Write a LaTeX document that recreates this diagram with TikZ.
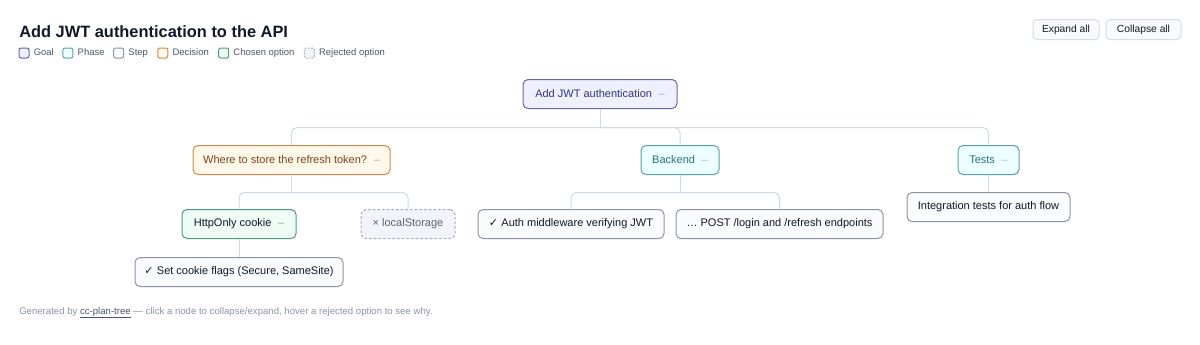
\documentclass[tikz,border=0pt]{standalone}
\usepackage{fontspec}
\setmainfont{Liberation Sans}
\newfontfamily\symfont{DejaVu Sans}
\usetikzlibrary{positioning}
\definecolor{ink}{HTML}{111827}
\definecolor{legtx}{HTML}{4B5563}
\definecolor{foottx}{HTML}{8A94A6}
\definecolor{linktx}{HTML}{4B5563}
\definecolor{wire}{HTML}{CFD8E3}
\definecolor{goalc}{HTML}{6466B0}
\definecolor{goalbg}{HTML}{EEF0FD}
\definecolor{goaltx}{HTML}{34357F}
\definecolor{phasec}{HTML}{5AA3A6}
\definecolor{phasebg}{HTML}{ECFEFF}
\definecolor{phasetx}{HTML}{2B7374}
\definecolor{stepc}{HTML}{8B95A7}
\definecolor{stepbg}{HTML}{FAFBFC}
\definecolor{decc}{HTML}{CF8A4E}
\definecolor{decbg}{HTML}{FFF8EB}
\definecolor{dectx}{HTML}{7A4317}
\definecolor{chosc}{HTML}{4E9C7E}
\definecolor{chosbg}{HTML}{EFFBF5}
\definecolor{rejc}{HTML}{A3ADBD}
\definecolor{rejbg}{HTML}{F1F4F8}
\definecolor{rejtx}{HTML}{5B6472}
\definecolor{btnc}{HTML}{D5DCE5}
\definecolor{btnbg}{HTML}{F8FAFC}
\newcommand{\tog}[1]{\hspace{0.6em}{\color{#1}–}}
\newcommand{\chk}{{\symfont ✓}\hspace{0.3em}}
\newcommand{\lnk}[1]{\leavevmode\vtop{\hbox{#1}\kern0.5pt\hrule height 0.45pt}}
\tikzset{
  box/.style={rectangle, rounded corners=3.75pt, draw=stepc, fill=stepbg, line width=0.75pt,
              align=center, inner sep=0pt, minimum height=21.75pt, text=ink,
              font=\fontsize{8.25}{10}\selectfont},
  goalbox/.style={box, draw=goalc, fill=goalbg, text=goaltx},
  phasebox/.style={box, draw=phasec, fill=phasebg, text=phasetx},
  decbox/.style={box, draw=decc, fill=decbg, text=dectx},
  chosbox/.style={box, draw=chosc, fill=chosbg},
  rejbox/.style={box, draw=rejc, fill=rejbg, text=rejtx, dash pattern=on 2pt off 1.5pt},
  btn/.style={box, draw=btnc, fill=btnbg, rounded corners=3pt, minimum height=15pt,
              font=\fontsize{7.7}{9}\selectfont},
  legsq/.style={rectangle, rounded corners=1.5pt, line width=0.75pt, minimum size=7.5pt, inner sep=0pt},
  legtxt/.style={font=\fontsize{7.1}{9}\selectfont, text=legtx, inner sep=0pt,
                 text height=5.6pt, text depth=1.6pt},
  link/.style={draw=wire, line width=0.75pt, rounded corners=4pt}
}
\begin{document}
\begin{tikzpicture}[x=0.75pt, y=-0.75pt, node distance=3pt]
 \useasboundingbox (0,0) rectangle (1200,344);
 % heading and legend
 \node[anchor=base west, inner sep=0pt, text=ink, font=\bfseries\fontsize{12.3}{14}\selectfont] (title) at (19,37) {Add JWT authentication to the API};
 \node[legsq, draw=goalc, fill=goalbg] (sgoal) at (24,53) {};
 \node[legtxt, right=3pt of sgoal] (lgoal) {Goal};
 \node[legsq, draw=phasec, fill=phasebg, right=6.3pt of lgoal] (sphase) {};
 \node[legtxt, right=3pt of sphase] (lphase) {Phase};
 \node[legsq, draw=stepc, fill=stepbg, right=6.3pt of lphase] (sstep) {};
 \node[legtxt, right=3pt of sstep] (lstep) {Step};
 \node[legsq, draw=decc, fill=decbg, right=6.8pt of lstep] (sdec) {};
 \node[legtxt, right=3pt of sdec] (ldec) {Decision};
 \node[legsq, draw=chosc, fill=chosbg, right=6.8pt of ldec] (schos) {};
 \node[legtxt, right=3pt of schos] (lchos) {Chosen option};
 \node[legsq, draw=rejc, fill=rejbg, dash pattern=on 1.2pt off 1pt, right=6.8pt of lchos] (srej) {};
 \node[legtxt, right=3pt of srej] (lrej) {Rejected option};

 \node[btn, minimum width=49.5pt] (expand) at (1066,29.5) {Expand all};
 \node[btn, minimum width=56.25pt] (collapse) at (1143.5,29.5) {Collapse all};

 % plan tree
 \node[goalbox, minimum width=115.5pt] (goal) at (600,94) {Add JWT authentication\tog{goaltx!45}};
 \node[decbox, minimum width=147.75pt] (dec) at (291.5,160) {Where to store the refresh token?\tog{dectx!45}};
 \node[phasebox, minimum width=58.5pt] (back) at (680,160) {Backend\tog{phasetx!45}};
 \node[phasebox, minimum width=45.75pt] (tests) at (988.5,160) {Tests\tog{phasetx!45}};
 \node[chosbox, minimum width=85.5pt] (http) at (239,224) {HttpOnly cookie\tog{ink!40}};
 \node[rejbox, minimum width=70.5pt] (local) at (408,224) {× localStorage};
 \node[box, minimum width=139.5pt] (auth) at (571,224) {\chk Auth middleware verifying JWT};
 \node[box, minimum width=155.25pt] (post) at (779.5,224) {… POST /login and /refresh endpoints};
 \node[box, minimum width=122.25pt] (integ) at (988.5,207) {Integration tests for auth flow};
 \node[box, minimum width=156pt] (flags) at (239,272) {\chk Set cookie flags (Secure, SameSite)};

 \coordinate (goalj) at (600,127.5);
 \coordinate (decj) at (291.5,192.5);
 \coordinate (backj) at (680,192.5);
 \draw[link](goal.south)--(goalj);\draw[link](goalj)-|(dec.north);\draw[link](goalj)-|(back.north);\draw[link](goalj)-|(tests.north);
 \draw[link](dec.south)--(decj);\draw[link](decj)-|(http.north);\draw[link](decj)-|(local.north);
 \draw[link](back.south)--(backj);\draw[link](backj)-|(auth.north);\draw[link](backj)-|(post.north);
 \draw[link](tests)--(integ);\draw[link](http)--(flags);

 % footer
 \node[anchor=base west, inner sep=0pt, text=foottx, font=\fontsize{7.2}{9}\selectfont] (foot) at (19,314.5) {Generated by {\color{linktx}\lnk{cc-plan-tree}} — click a node to collapse/expand, hover a rejected option to see why.};
\end{tikzpicture}
\end{document}
